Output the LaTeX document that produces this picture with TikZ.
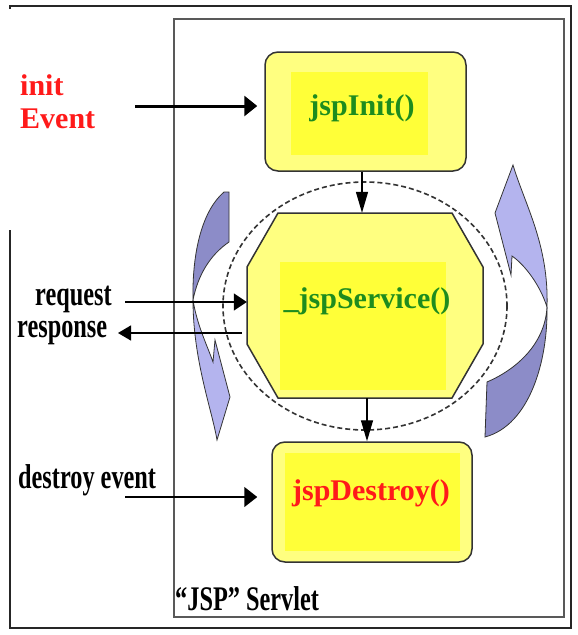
\documentclass[tikz,border=0pt]{standalone}
\usepackage{fontspec}
\setmainfont{Liberation Serif}
\usetikzlibrary{arrows.meta,calc}
\definecolor{boxfill}{HTML}{FFFF80}
\definecolor{boxcore}{HTML}{FFFF38}
\definecolor{boxline}{HTML}{333333}
\definecolor{txtgreen}{HTML}{1E8C1E}
\definecolor{txtred}{HTML}{FF1A1A}
\definecolor{bluedark}{HTML}{8C8CC8}
\definecolor{bluelight}{HTML}{B4B4EE}
\begin{document}
\begin{tikzpicture}[x=1pt,y=-1pt,
  rbox/.style={draw=boxline,line width=1.5pt,fill=boxfill,rounded corners=13pt,inner sep=0pt},
  hidbox/.style={inner sep=0pt},
  core/.style={fill=boxcore},
  mtxt/.style={font=\fontsize{30}{33}\selectfont\bfseries,inner sep=0pt,anchor=base},
  lbl/.style={font=\fontsize{30}{33}\selectfont\bfseries,inner sep=0pt,anchor=base west},
  flow/.style={line width=1.4pt,-{Triangle[length=13pt,width=17pt]}},
  downarr/.style={line width=1.4pt,-{Triangle[length=21pt,width=12pt]}},
  ribbon/.style={draw=black!80,line width=0.8pt}]
\useasboundingbox (0,0) rectangle (578,635);
\fill[white] (0,0) rectangle (578,635);
% frames
\draw[line width=1.5pt,black!85] (10,9) -- (10,6) -- (571,6) -- (571,628) -- (10,628) -- (10,230);
\draw[line width=1.5pt,black!65] (174,19) rectangle (564,617);
% dashed ellipse
\draw[dash pattern=on 5pt off 3pt,line width=1.6pt,black!80] (365,306) ellipse [x radius=142, y radius=124];
% ribbons (cycle arrows)
\filldraw[ribbon,fill=bluedark] (224,192) .. controls (203,210) and (192,250) .. (193,300) .. controls (198,275) and (210,255) .. (229,242) -- (229,192) -- cycle;
\filldraw[ribbon,fill=bluelight] (193,300) .. controls (197,325) and (207,345) .. (213,362) -- (215,340) -- (230,397) -- (217,440) .. controls (212,410) and (193,360) .. (193,300) -- cycle;
\filldraw[ribbon,fill=bluelight] (547,307) .. controls (540,285) and (525,265) .. (512,256) -- (511,275) -- (495,213) -- (513,165) .. controls (525,205) and (549,245) .. (547,307) -- cycle;
\filldraw[ribbon,fill=bluedark] (547,307) .. controls (548,360) and (530,425) .. (485,437) -- (487,382) .. controls (515,370) and (545,345) .. (547,307) -- cycle;
% jspInit
\node[rbox,minimum width=201pt,minimum height=119pt] (init) at (365.5,111.5) {};
\fill[core] (291,72) rectangle (428,155);
\node[mtxt,txtgreen] (initt) at (362,115) {jspInit()};
% _jspService octagon
\node[hidbox,minimum width=236pt,minimum height=185pt] (svc) at (365,305.5) {};
\filldraw[draw=boxline,line width=1.5pt,fill=boxfill] (278,213) -- (452,213) -- (483,267) -- (483,344) -- (452,398) -- (278,398) -- (247,344) -- (247,267) -- cycle;
\fill[core] (280,262) rectangle (446,390);
\node[mtxt,txtgreen] (svct) at (367,308) {\_jspService()};
% jspDestroy
\node[rbox,minimum width=200pt,minimum height=120pt] (dest) at (372,502) {};
\fill[core] (285,453) rectangle (460,551);
\node[mtxt,txtred] (destt) at (371,500) {jspDestroy()};
% labels
\node[lbl,txtred] (initl) at (20,95) {init};
\node[lbl,txtred] (eventl) at (20,128) {Event};
\node[lbl] (reql) at (35,305) {\scalebox{0.81}[1.15]{request}};
\node[lbl] (respl) at (17,337) {\scalebox{0.81}[1.15]{response}};
\node[lbl] (destl) at (18,488) {\scalebox{0.81}[1.15]{destroy event}};
\node[lbl] (servl) at (175,610) {\scalebox{0.81}[1.15]{“JSP” Servlet}};
% connectors
\coordinate (initsrc) at (135,106);
\draw[line width=3pt,-{Triangle[length=13pt,width=20pt]},shorten >=7pt] (initsrc) -- (initsrc -| init.west);
\draw[downarr] ($(init.south)+(-3.5,0)$) -- ($(init.south |- svc.north)+(-3.5,0)$);
\draw[downarr] ($(svc.south)+(2,0)$) -- ($(svc.south |- dest.north)+(2,0)$);
\coordinate (reqsrc) at (125,302);
\draw[flow,line width=1.3pt] (reqsrc) -- (reqsrc -| svc.west);
\coordinate (respdst) at (118,333);
\draw[line width=1.3pt,-{Triangle[length=13pt,width=15pt]}] ($(svc.west |- respdst)+(-5,0)$) -- (respdst);
\coordinate (destsrc) at (125,497);
\draw[line width=1.5pt,-{Triangle[length=13pt,width=20pt]},shorten >=14pt] (destsrc) -- (destsrc -| dest.west);
\end{tikzpicture}
\end{document}
